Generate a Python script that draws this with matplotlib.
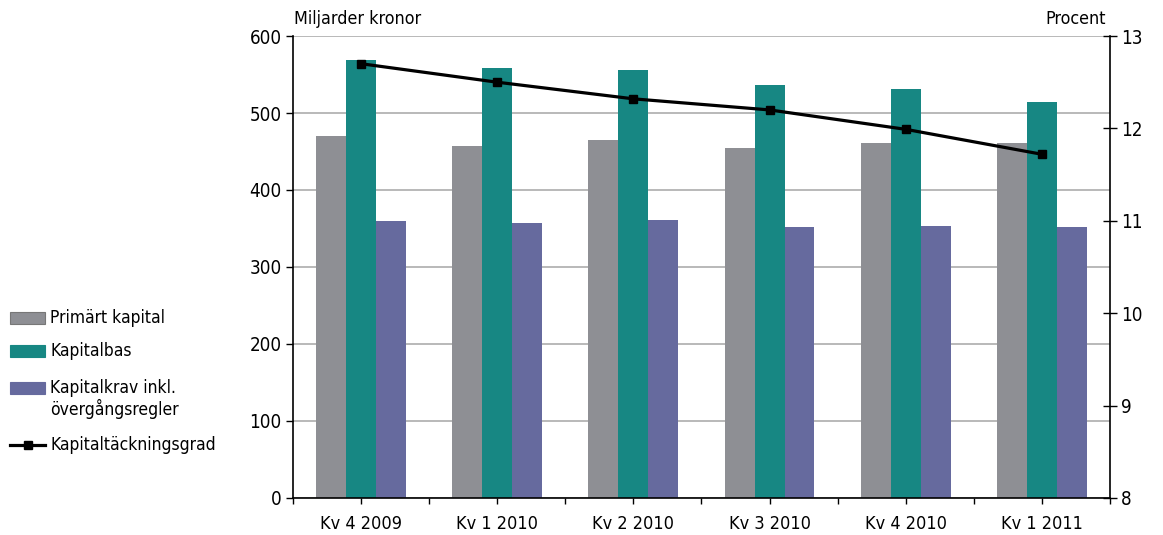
import numpy as np
import matplotlib.pyplot as plt
from matplotlib.patches import Rectangle
from matplotlib.lines import Line2D

plt.rcParams['font.family'] = ['DejaVu Sans']
plt.rcParams['font.stretch'] = 'condensed'

quarters = ["Kv 4 2009", "Kv 1 2010", "Kv 2 2010", "Kv 3 2010", "Kv 4 2010", "Kv 1 2011"]
primart_kapital = [470, 457, 465, 455, 461, 461]
kapitalbas = [569, 558, 556, 536, 531, 514]
kapitalkrav = [360, 357, 361, 352, 353, 352]
kapitaltackningsgrad = [12.70, 12.50, 12.32, 12.20, 11.99, 11.72]

GREY = "#8e8f94"
TEAL = "#178783"
PURPLE = "#666a9e"

W, H = 1163, 535


def px(x, y):
    """ pixel position (from top-left) to figure fraction """
    return x / W, 1 - y / H


def add_legend(fig):
    """ legend drawn by hand at the left side of the figure """
    patches = [(GREY, 318, "Primärt kapital"),
               (TEAL, 351, "Kapitalbas"),
               (PURPLE, 388, "Kapitalkrav inkl.\növergångsregler")]
    for color, yc, label in patches:
        x0, y0 = px(10, yc + 6)
        fig.add_artist(Rectangle((x0, y0), 35 / W, 12 / H, transform=fig.transFigure,
                                 facecolor=color,
                                 edgecolor="#777777" if color == GREY else color,
                                 linewidth=0.8))
        tx, ty = px(50, yc)
        va = "center" if "\n" not in label else "top"
        if va == "top":
            ty = px(50, yc - 9)[1]
        fig.text(tx, ty, label, ha="left", va=va, fontsize=12.5, linespacing=1.15)
    lx0, ly = px(10, 445)
    lx1, _ = px(45, 445)
    fig.add_artist(Line2D([lx0, lx1], [ly, ly], transform=fig.transFigure,
                          color="black", linewidth=2.3))
    fig.add_artist(Line2D([(lx0 + lx1) / 2], [ly], transform=fig.transFigure,
                          color="black", marker="s", markersize=6))
    tx, ty = px(50, 445)
    fig.text(tx, ty, "Kapitaltäckningsgrad", ha="left", va="center", fontsize=12.5)


def main():
    fig = plt.figure(figsize=(11.63, 5.35), dpi=100)
    ax = fig.add_axes([0.2519, 0.0692, 0.7025, 0.8635])

    x = np.arange(len(quarters))
    width = 0.22
    ax.bar(x - width, primart_kapital, width, color=GREY, zorder=2)
    ax.bar(x, kapitalbas, width, color=TEAL, zorder=2)
    ax.bar(x + width, kapitalkrav, width, color=PURPLE, zorder=2)

    ax.set_xlim(-0.5, len(quarters) - 0.5)
    ax.set_ylim(0, 600)
    ax.set_yticks(range(0, 601, 100))
    ax.yaxis.grid(True, color="#a6a6a6", linewidth=1.1, zorder=0)
    ax.set_axisbelow(True)
    ax.set_xticks(x)
    ax.set_xticklabels(quarters)
    ax.set_xticks(np.arange(-0.5, len(quarters)), minor=True)
    ax.tick_params(axis="x", which="both", length=4, width=1, labelsize=13, pad=8)
    ax.tick_params(axis="y", length=5, width=1, labelsize=13.5, pad=3)
    for side in ["top", "right"]:
        ax.spines[side].set_visible(False)
    ax.spines["left"].set_linewidth(1.2)
    ax.spines["bottom"].set_linewidth(1.2)

    ax2 = ax.twinx()
    ax2.plot(x, kapitaltackningsgrad, color="black", linewidth=2.3,
             marker="s", markersize=6, zorder=5)
    ax2.set_ylim(8, 13)
    ax2.set_yticks(range(8, 14))
    ax2.tick_params(axis="y", direction="inout", length=10, width=1,
                    labelsize=13.5, pad=3)
    for side in ["top", "left", "bottom"]:
        ax2.spines[side].set_visible(False)
    ax2.spines["right"].set_linewidth(1.2)

    fig.text(0.253, 0.965, "Miljarder kronor", ha="left", va="center", fontsize=12.8)
    fig.text(0.951, 0.965, "Procent", ha="right", va="center", fontsize=12.8)

    add_legend(fig)

    fig.savefig("out.png", dpi=100)


if __name__ == "__main__":
    main()
